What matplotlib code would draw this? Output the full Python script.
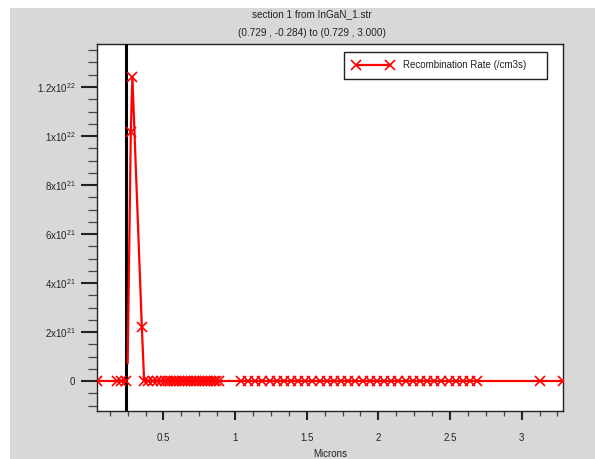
import matplotlib
matplotlib.use("Agg")
import matplotlib.pyplot as plt
from matplotlib.patches import Rectangle
from matplotlib.ticker import FixedLocator, MultipleLocator

plt.rcParams['font.family'] = ['Liberation Sans', 'DejaVu Sans']
plt.rcParams['mathtext.fontset'] = 'custom'
plt.rcParams['mathtext.rm'] = 'Liberation Sans'

# cutline data (microns, /cm3s)
x_left = [0.036, 0.176, 0.204, 0.239]
y_left = [0, 0, 0, 0]

x_peak = [0.250, 0.272, 0.283, 0.349]
y_peak = [7.3e20, 1.018e22, 1.242e22, 2.19e21]

x_zero = [0.365, 0.393, 0.424, 0.456, 0.484, 0.512,
          0.53, 0.55, 0.57, 0.59, 0.61, 0.63, 0.65, 0.67, 0.69, 0.71,
          0.73, 0.75, 0.77, 0.79, 0.81, 0.83, 0.85, 0.87, 0.89,
          1.04, 1.09, 1.14, 1.19, 1.24, 1.29, 1.34, 1.39, 1.44, 1.49,
          1.54, 1.59, 1.64, 1.69, 1.74, 1.79, 1.84, 1.89, 1.94, 1.99,
          2.04, 2.09, 2.14, 2.19, 2.24, 2.29, 2.34, 2.39, 2.44, 2.49,
          2.54, 2.59, 2.64, 2.69, 3.13, 3.285]
y_zero = [0] * len(x_zero)

interface_x = 0.239

xticks = [0.5, 1, 1.5, 2, 2.5, 3]
xticklabels = ['0.5', '1', '1.5', '2', '2.5', '3']
yticks = [0, 2e21, 4e21, 6e21, 8e21, 1e22, 1.2e22]
yticklabels = ['0', '2x10$^{21}$', '4x10$^{21}$', '6x10$^{21}$', '8x10$^{21}$',
               '1x10$^{22}$', '1.2x10$^{22}$']

red = '#ff0000'

fig = plt.figure(figsize=(5.95, 4.59), dpi=100, facecolor='white')
fig.patches.append(Rectangle((10 / 595, 0), 1, 1 - 8 / 459, transform=fig.transFigure,
                             facecolor='#d8d8d8', edgecolor='none', zorder=-10))

ax = fig.add_axes([97 / 595, 1 - 411 / 459, (562.5 - 97) / 595, (411 - 44) / 459])
ax.set_facecolor('white')

ax.axvline(interface_x, color='black', lw=2.2, zorder=3)

mk = dict(color=red, lw=1.6, marker='x', ms=6.5, mew=1.2, zorder=4)
ax.plot(x_left, y_left, **mk)
x_mid = x_peak + x_zero
y_mid = y_peak + y_zero
ax.plot(x_mid, y_mid, markevery=list(range(1, len(x_mid))),
        label='Recombination Rate (/cm3s)', **mk)

ax.set_xlim(0.036, 3.285)
ax.set_ylim(-1.224e21, 1.3755e22)

ax.xaxis.set_major_locator(FixedLocator(xticks))
ax.set_xticklabels(xticklabels)
ax.xaxis.set_minor_locator(MultipleLocator(0.125))
ax.yaxis.set_major_locator(FixedLocator(yticks))
ax.set_yticklabels(yticklabels)
ax.yaxis.set_minor_locator(MultipleLocator(5e20))

ax.tick_params(axis='both', which='both', direction='out', top=False, right=False,
               labelsize=7, colors='#222222')
ax.tick_params(axis='y', which='major', length=11.5, width=1.5, pad=4)
ax.tick_params(axis='y', which='minor', length=6.5, width=0.9, color='#444444')
ax.tick_params(axis='x', which='major', length=6.5, width=1.5, pad=9)
ax.tick_params(axis='x', which='minor', length=3.8, width=0.9, color='#444444')
for s in ax.spines.values():
    s.set_linewidth(1.0)
    s.set_color('#222222')

ax.set_xlabel('Microns', fontsize=7, labelpad=5, color='#222222')

fig.text(311.5 / 595, 1 - 14.3 / 459, 'section 1 from InGaN_1.str', ha='center', va='center',
         fontsize=7.2, color='#222222')
fig.text(311.5 / 595, 1 - 33.3 / 459, '(0.729 , -0.284) to (0.729 , 3.000)', ha='center',
         va='center', fontsize=7.2, color='#222222')

leg = ax.legend(loc='upper left', bbox_to_anchor=(0.531, 0.905, 0.436, 0.074), mode='expand',
                fancybox=False, edgecolor='#222222', framealpha=1, fontsize=7,
                numpoints=2, handlelength=4.1, handletextpad=1.0, borderpad=0.9,
                borderaxespad=0)
leg.get_frame().set_linewidth(1.0)
for t in leg.get_texts():
    t.set_color('#222222')

fig.savefig('out.png', dpi=100, facecolor=fig.get_facecolor())
